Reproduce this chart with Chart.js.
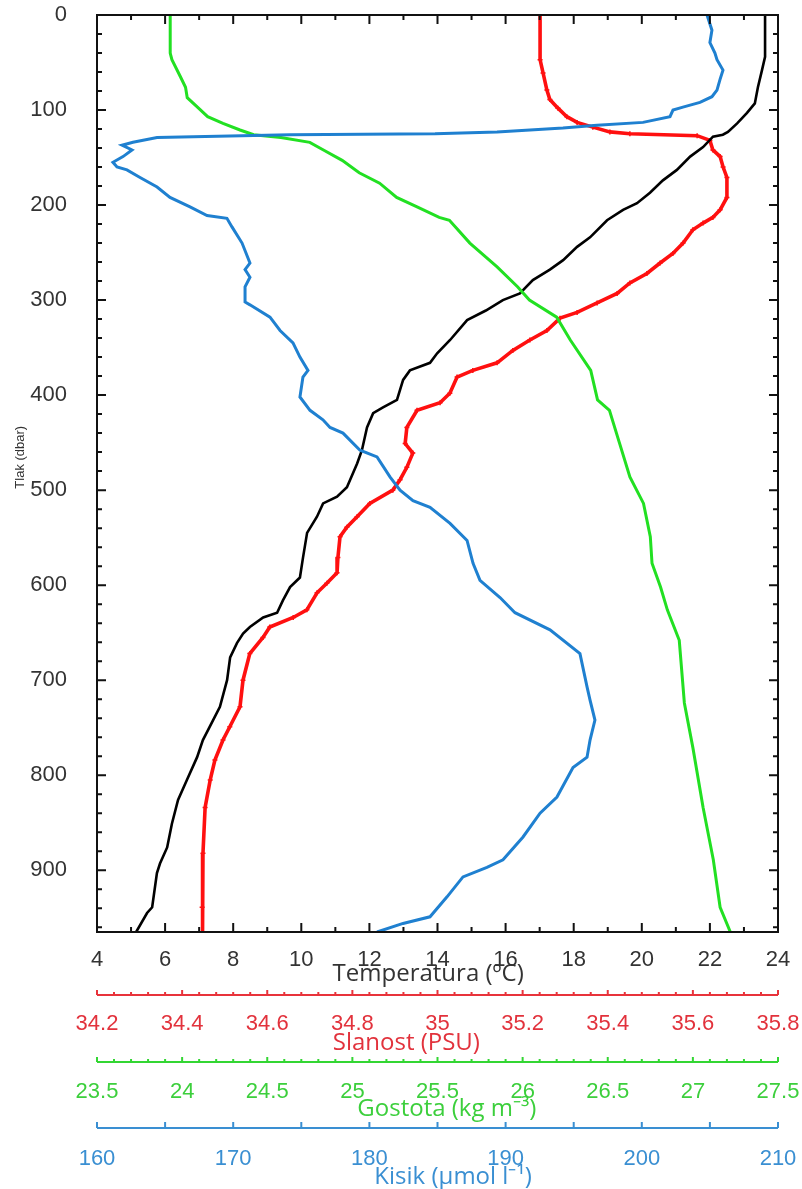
<!DOCTYPE html>
<html><head><meta charset="utf-8">
<script src="https://cdn.jsdelivr.net/npm/chart.js@4.4.1/dist/chart.umd.min.js"></script>
<style>html,body{margin:0;padding:0;background:#fff}</style>
</head><body>
<canvas id="c" width="802" height="1189"></canvas>
<script>
// ---- Temperatura (black), pressure in dbar ----
const tempPressure = [0,44,58,76,93,103,114,123,126,128,139,149,163,174,187,198,205,216,234,244,258,268,279,293,300,311,321,342,356,366,374,384,405,413,419,434,458,472,497,507,514,528,545,571,592,602,616,629,634,644,651,661,676,700,728,742,763,781,805,826,851,876,893,903,939,945,965];
const tempValues = [23.62,23.62,23.53,23.41,23.32,23.09,22.80,22.53,22.38,22.09,21.80,21.42,21.03,20.62,20.24,19.86,19.45,18.98,18.48,18.10,17.69,17.30,16.80,16.42,15.92,15.42,14.87,14.37,13.99,13.78,13.19,12.99,12.81,12.40,12.11,11.93,11.78,11.64,11.34,11.05,10.64,10.46,10.17,10.05,9.96,9.67,9.46,9.29,8.88,8.49,8.29,8.11,7.91,7.82,7.61,7.41,7.11,6.94,6.64,6.38,6.20,6.06,5.85,5.76,5.62,5.47,5.15];

// ---- Slanost (red, PSU) ----
const salPressure = [0,47,61,79,89,98,107,113,118,123,125,127,132,142,149,160,171,192,205,213,219,226,240,251,261,272,282,293,303,313,319,332,342,353,366,374,381,398,408,416,434,451,461,476,489,500,514,528,539,549,571,587,598,608,626,634,644,655,672,700,728,749,763,784,805,834,882,939,965];
const salValues = [35.241,35.241,35.248,35.257,35.264,35.283,35.304,35.328,35.365,35.405,35.452,35.610,35.640,35.647,35.664,35.671,35.680,35.680,35.664,35.647,35.624,35.600,35.577,35.553,35.523,35.492,35.452,35.422,35.375,35.328,35.288,35.257,35.217,35.177,35.140,35.083,35.046,35.029,35.006,34.952,34.928,34.924,34.942,34.928,34.912,34.895,34.841,34.811,34.787,34.771,34.766,34.764,34.740,34.717,34.693,34.661,34.606,34.590,34.559,34.543,34.536,34.512,34.496,34.477,34.466,34.454,34.449,34.447,34.449];

// ---- Gostota (green, kg m-3) ----
const densPressure = [0,40,47,65,76,87,97,107,114,121,126,129,134,142,153,166,177,192,202,213,216,240,265,286,300,318,342,374,405,416,451,486,514,549,577,602,626,658,724,771,834,889,939,965];
const densValues = [23.93,23.93,23.94,23.99,24.02,24.03,24.09,24.15,24.24,24.34,24.42,24.58,24.75,24.83,24.94,25.04,25.16,25.26,25.38,25.51,25.57,25.69,25.85,25.97,26.04,26.20,26.28,26.40,26.44,26.51,26.57,26.63,26.71,26.75,26.76,26.81,26.85,26.92,26.95,27.00,27.06,27.12,27.16,27.22];

// ---- Kisik (blue, umol l-1) ----
const oxyPressure = [0,16,29,40,47,58,68,79,86,92,97,100,107,113,116,119,123,125,126,129,134,137,142,149,155,160,163,171,181,192,202,211,214,223,240,261,268,276,286,302,305,318,332,345,360,374,381,402,416,426,434,440,458,465,486,500,511,518,535,553,577,595,613,629,647,672,707,721,742,763,781,792,823,840,865,889,897,907,928,949,956,965];
const oxyValues = [204.79,205.15,205.00,205.37,205.52,205.96,205.74,205.52,205.15,204.27,203.02,202.29,202.07,200.09,196.71,194.21,189.37,184.82,174.17,164.41,162.64,161.84,162.57,161.91,161.17,161.47,162.20,163.16,164.41,165.36,166.83,168.08,169.54,169.91,170.65,171.23,170.87,171.23,170.87,170.87,171.23,172.70,173.44,174.39,174.90,175.49,175.12,174.90,175.64,176.59,177.11,178.06,179.31,180.56,181.51,182.25,183.20,184.45,185.92,187.17,187.61,188.12,189.59,190.69,193.26,195.46,195.98,196.20,196.56,196.20,195.98,194.95,193.77,192.53,191.28,189.81,188.63,186.87,185.70,184.45,182.47,180.56];

// ---- axis ranges ----
const pressureRange = [0, 965];
const tempRange = [4, 24];
const salRange = [34.2, 35.8];
const densRange = [23.5, 27.5];
const oxyRange = [160, 210];

const RED = '#ff1010', GREEN = '#22e022', BLUE = '#1f80d0';
const RED_T = '#e2323c', GREEN_T = '#3ccf3c', BLUE_T = '#3a8fd2';

const pairs = (ps, vs) => ps.map((p, i) => ({x: vs[i], y: p}));
const fmt = v => String(Math.round(v * 100) / 100);
const numFont = {family: "'Liberation Sans', Arial, sans-serif", size: 22};
const titleFont = {family: "'Open Sans', sans-serif", size: 24, lineHeight: 1};

function fixH(h) {
  return s => { s.height = h; s.paddingLeft = 0; s.paddingRight = 0; };
}

const tickPlugin = {
  id: 'profileTicks',
  afterDatasetsDraw(chart) {
    const ctx = chart.ctx, a = chart.chartArea, sc = chart.scales;
    ctx.save();
    ctx.lineCap = 'butt';
    ctx.strokeStyle = '#111';
    ctx.lineWidth = 2;
    ctx.strokeRect(a.left, a.top, a.right - a.left, a.bottom - a.top);
    const sx = sc.x;
    for (let i = 0; i <= 20; i++) {
      const px = sx.getPixelForValue(tempRange[0] + i);
      const len = (i % 2 === 0) ? 9 : 5;
      ctx.beginPath();
      ctx.moveTo(px, a.bottom); ctx.lineTo(px, a.bottom - len);
      ctx.moveTo(px, a.top); ctx.lineTo(px, a.top + len);
      ctx.stroke();
    }
    const sy = sc.y;
    for (let v = 0; v <= pressureRange[1]; v += 20) {
      const py = sy.getPixelForValue(v);
      const len = (v % 100 === 0) ? 9 : 5;
      ctx.beginPath();
      ctx.moveTo(a.left, py); ctx.lineTo(a.left + len, py);
      ctx.moveTo(a.right, py); ctx.lineTo(a.right - len, py);
      ctx.stroke();
    }
    const extra = [
      {s: sc.xS, range: salRange, minor: 0.04, majorEvery: 5, color: '#e8333b', maj: 5, min: 3},
      {s: sc.xD, range: densRange, minor: 0.1, majorEvery: 5, color: '#33d633', maj: 5, min: 3},
      {s: sc.xO, range: oxyRange, minor: 5, majorEvery: 1, color: '#3a8fd2', maj: 6, min: 6}
    ];
    for (const e of extra) {
      const y0 = e.s.top;
      ctx.strokeStyle = e.color;
      ctx.lineWidth = 2;
      ctx.beginPath();
      ctx.moveTo(e.s.getPixelForValue(e.range[0]), y0);
      ctx.lineTo(e.s.getPixelForValue(e.range[1]), y0);
      ctx.stroke();
      const n = Math.round((e.range[1] - e.range[0]) / e.minor);
      for (let i = 0; i <= n; i++) {
        const px = e.s.getPixelForValue(e.range[0] + i * e.minor);
        const len = (i % e.majorEvery === 0) ? e.maj : e.min;
        ctx.beginPath();
        ctx.moveTo(px, y0); ctx.lineTo(px, y0 - len);
        ctx.stroke();
      }
    }
    ctx.restore();
  }
};

const baseX = (range, step, color, labelPad, title, titleColor, titlePad, weight, h) => ({
  type: 'linear', position: 'bottom', min: range[0], max: range[1], weight: weight,
  grid: {display: false}, border: {display: false},
  ticks: {stepSize: step, color: color, font: numFont, padding: labelPad, maxRotation: 0, autoSkip: false, callback: fmt},
  title: {display: true, text: title, color: titleColor, font: titleFont, padding: {top: 0, bottom: titlePad}},
  afterFit: fixH(h)
});

new Chart(document.getElementById('c'), {
  type: 'scatter',
  data: {
    datasets: [
      {label: 'Kisik', data: pairs(oxyPressure, oxyValues), xAxisID: 'xO', yAxisID: 'y', borderColor: BLUE, borderWidth: 3, showLine: true, pointRadius: 0, tension: 0},
      {label: 'Gostota', data: pairs(densPressure, densValues), xAxisID: 'xD', yAxisID: 'y', borderColor: GREEN, borderWidth: 3, showLine: true, pointRadius: 0, tension: 0},
      {label: 'Temperatura', data: pairs(tempPressure, tempValues), xAxisID: 'x', yAxisID: 'y', borderColor: '#000', borderWidth: 2.6, showLine: true, pointRadius: 0, tension: 0},
      {label: 'Slanost', data: pairs(salPressure, salValues), xAxisID: 'xS', yAxisID: 'y', borderColor: RED, backgroundColor: RED, borderWidth: 3.6, showLine: true, pointStyle: 'cross', pointRadius: 2.5, pointBorderWidth: 1.5, pointBorderColor: RED, tension: 0}
    ]
  },
  options: {
    responsive: false, animation: false, devicePixelRatio: 1,
    layout: {padding: {left: 0, right: 24, top: 15, bottom: 0}},
    plugins: {legend: {display: false}, tooltip: {enabled: false}},
    scales: {
      y: {
        type: 'linear', position: 'left', reverse: true, min: pressureRange[0], max: pressureRange[1],
        grid: {display: false}, border: {display: false},
        ticks: {stepSize: 100, includeBounds: false, color: '#333', font: numFont, padding: 22},
        title: {display: true, text: '         Tlak (dbar)', color: '#333', font: {family: "'Liberation Sans', Arial, sans-serif", size: 13, lineHeight: 1}, padding: {top: 14, bottom: 0}},
        afterFit: s => { s.width = 97; s.paddingTop = 0; s.paddingBottom = 0; }
      },
      x: baseX(tempRange, 2, '#333', 7, 'Temperatura (ºC)   ', '#333', 9, 0, 63),
      xS: baseX(salRange, 0.2, RED_T, 8, 'Slanost (PSU)          ', RED_T, 7, 1, 67),
      xD: baseX(densRange, 0.5, GREEN_T, 9, '   Gostota (kg m⁻³)', GREEN_T, 7, 2, 66),
      xO: baseX(oxyRange, 10, BLUE_T, 10, '     Kisik (µmol l⁻¹)', BLUE_T, 0, 3, 61)
    }
  },
  plugins: [tickPlugin]
});
</script>
</body></html>
